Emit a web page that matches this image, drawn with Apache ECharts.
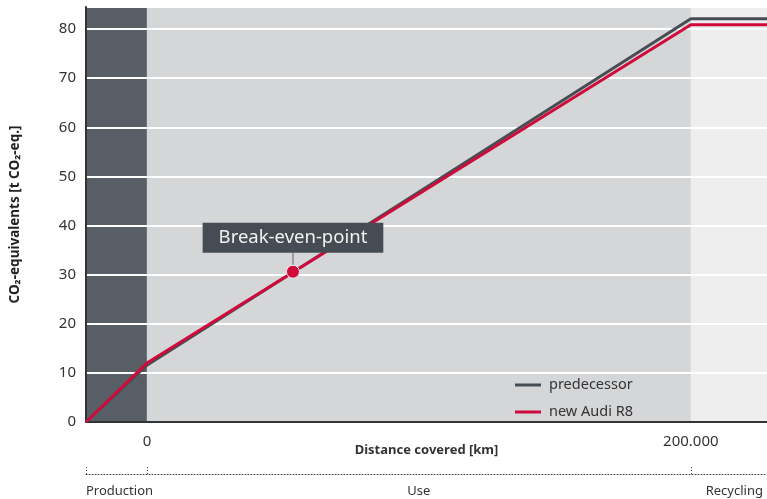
<!DOCTYPE html>
<html>
<head>
<meta charset="utf-8">
<script src="https://cdn.jsdelivr.net/npm/echarts@6/dist/echarts.min.js"></script>
<style>html,body{margin:0;padding:0;background:#fff}#c{width:767px;height:499px}</style>
</head>
<body>
<div id="c"></div>
<script>
// ---- data ----
const distance = [-22400, 0, 200000, 228000];
const predecessor = [0, 11.55, 82.1, 82.1];
const newAudiR8 = [0, 12.0, 80.9, 80.9];
const breakEven = [53700, 30.6];
const phaseBounds = [-22400, 0, 200000, 228000];
const phaseNames = ['Production', 'Use', 'Recycling'];
const distanceTicks = [0, 200000];
const yTicks = [0, 10, 20, 30, 40, 50, 60, 70, 80];

const FONT = '"Noto Sans", "Open Sans", sans-serif';
const chart = echarts.init(document.getElementById('c'));

function pairs(xs, ys) { return xs.map((x, i) => [x, ys[i]]); }

chart.setOption({
  animation: false,
  textStyle: { fontFamily: FONT },
  grid: { left: 86, right: 0, top: 7, bottom: 77 },
  legend: {
    left: 515, top: 377, orient: 'vertical', padding: 0,
    icon: 'rect', itemWidth: 26, itemHeight: 3, itemGap: 11,
    textStyle: { fontSize: 14.5, color: '#333', lineHeight: 16, padding: [0, 0, 0, 3] },
    data: ['predecessor', 'new Audi R8']
  },
  xAxis: [{
    type: 'value', min: -22400, max: 228000, position: 'bottom', z: 1,
    splitLine: { show: false },
    axisLine: { show: true, onZero: false, lineStyle: { color: '#333', width: 2 } },
    axisTick: { show: false },
    axisLabel: { customValues: distanceTicks, fontSize: 15, color: '#333', margin: 12,
      formatter: v => v === 0 ? '0' : String(v / 1000) + '.000' },
    name: 'Distance covered [km]', nameLocation: 'middle', nameGap: 22, nameMoveOverlap: false,
    nameTextStyle: { fontSize: 13, fontWeight: 'bold', color: '#333' }
  }, {
    type: 'value', min: -22400, max: 228000, position: 'bottom', offset: 52, z: 1,
    splitLine: { show: false },
    axisLine: { show: true, onZero: false, lineStyle: { color: '#444', width: 1, type: [1, 2] } },
    axisTick: { show: true, inside: true, length: 8, customValues: phaseBounds.slice(0, 3),
      lineStyle: { color: '#444', width: 1, type: [1, 2] } },
    axisLabel: { customValues: [phaseBounds[0], (phaseBounds[1] + phaseBounds[2]) / 2, 226500],
      alignMinLabel: 'left', alignMaxLabel: 'right', fontSize: 13, color: '#333', margin: 11,
      formatter: (v) => v < 0 ? phaseNames[0] : (v > 200000 ? phaseNames[2] : phaseNames[1]) }
  }],
  yAxis: {
    type: 'value', min: 0, max: 84.5, interval: 10, z: 1,
    axisLine: { show: true, onZero: false, lineStyle: { color: '#333', width: 2 } },
    axisTick: { show: false },
    axisLabel: { fontSize: 15, color: '#333', margin: 10, showMaxLabel: false },
    splitLine: { show: true, lineStyle: { color: '#ffffff', width: 2 } },
    name: 'CO₂-equivalents [t CO₂-eq.]', nameLocation: 'middle', nameGap: 64, nameMoveOverlap: false,
    nameTextStyle: { fontSize: 13.5, fontWeight: 'bold', color: '#222' }
  },
  series: [{
    name: 'bands', type: 'line', data: [], z: 0, silent: true,
    markArea: {
      silent: true, z: 0,
      data: [
        [{ xAxis: phaseBounds[0], itemStyle: { color: '#575e66' } }, { xAxis: phaseBounds[1] }],
        [{ xAxis: phaseBounds[1], itemStyle: { color: '#d5d6d8' } }, { xAxis: phaseBounds[2] }],
        [{ xAxis: phaseBounds[2], itemStyle: { color: '#eeeeee' } }, { xAxis: phaseBounds[3] }]
      ]
    }
  }, {
    name: 'predecessor', type: 'line', data: pairs(distance, predecessor), z: 2,
    symbol: 'none', color: '#474d54', lineStyle: { width: 3, color: '#474d54' }
  }, {
    name: 'new Audi R8', type: 'line', data: pairs(distance, newAudiR8), z: 3,
    symbol: 'none', color: '#d00a3a', lineStyle: { width: 3, color: '#d00a3a' }
  }, {
    name: 'break-even', type: 'scatter', data: [breakEven], z: 4,
    symbolSize: 13,
    itemStyle: { color: '#d00a3a', borderColor: '#f2f2f2', borderWidth: 1, opacity: 1 },
    label: {
      show: true, position: 'top', distance: 0,
      formatter: 'Break-even-point',
      backgroundColor: '#454c53', color: '#f2f2f2', fontSize: 18.5,
      padding: [6, 16, 5, 16], fontFamily: FONT, opacity: 1
    },
    labelLayout: { dy: -12 },
    labelLine: { show: true, lineStyle: { color: '#8a8a8a', width: 1.5 } }
  }]
});
</script>
</body>
</html>
